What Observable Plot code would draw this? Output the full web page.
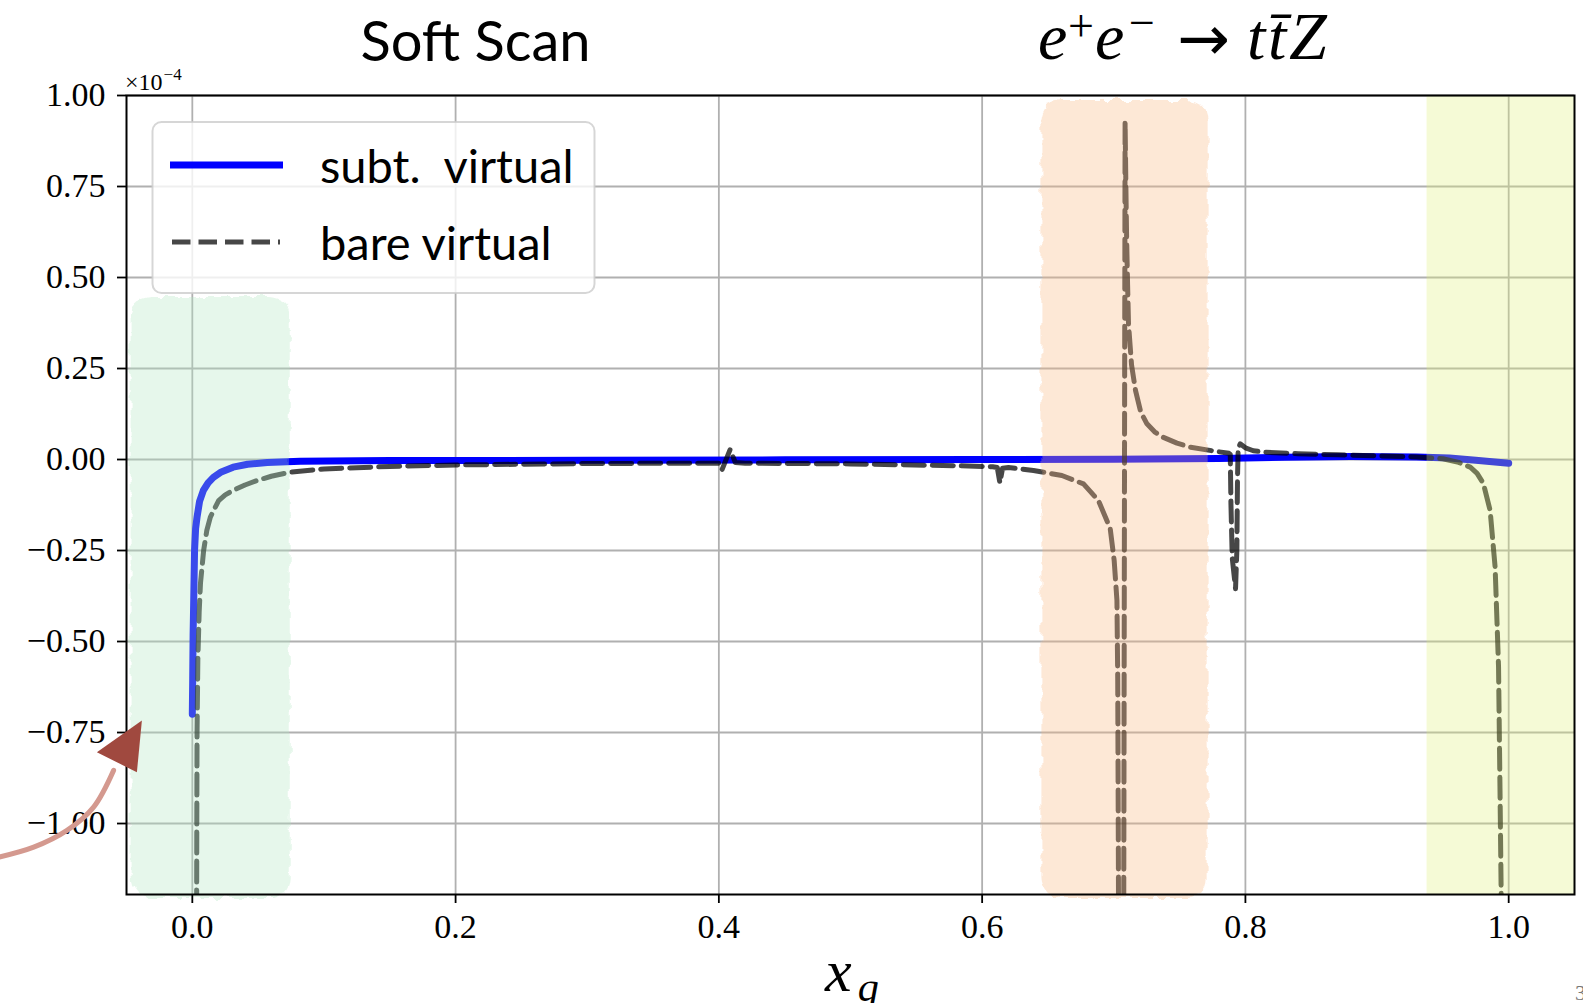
<!DOCTYPE html>
<html><head><meta charset="utf-8">
<script src="https://cdn.jsdelivr.net/npm/d3@7"></script>
<script src="https://cdn.jsdelivr.net/npm/@observablehq/plot@0.6"></script>
<style>
html,body{margin:0;padding:0;background:#fff;}
#chart{width:1583px;height:1003px;overflow:hidden;position:relative;}
</style></head><body><div id="chart"></div>
<script>
// ---------- data ----------
const xTicks = [0.0, 0.2, 0.4, 0.6, 0.8, 1.0];
const yTicks = [-1.0, -0.75, -0.5, -0.25, 0.0, 0.25, 0.5, 0.75, 1.0];

const titleLeft = "Soft Scan";
const seriesNames = ["subt.  virtual", "bare virtual"];

// subt. virtual (units of 1e-4)
const subtX = [0.0000, 0.0003, 0.0006, 0.0010, 0.0017, 0.0025, 0.0036, 0.0055, 0.0084, 0.0120, 0.0160, 0.0220, 0.0310, 0.0420, 0.0570, 0.0820, 0.1500, 0.3000, 0.4500, 0.6000, 0.7000, 0.7800, 0.8300, 0.8800, 0.9300, 0.9550, 0.9750, 1.0000];
const subtY = [-0.700, -0.600, -0.480, -0.400, -0.250, -0.190, -0.158, -0.115, -0.085, -0.064, -0.049, -0.034, -0.021, -0.013, -0.008, -0.005, -0.003, -0.002, -0.001, 0.000, 0.001, 0.003, 0.006, 0.008, 0.007, 0.004, -0.002, -0.010];

// bare virtual (units of 1e-4)
const bareX = [0.0032, 0.0034, 0.0036, 0.0042, 0.0052, 0.0062, 0.0086, 0.0110, 0.0137, 0.0200, 0.0250, 0.0310, 0.0400, 0.0490, 0.0600, 0.0740, 0.1000, 0.1500, 0.2000, 0.3000,
  0.4010, 0.4025, 0.4085, 0.4125, 0.4200, 0.5000, 0.5800, 0.6080, 0.6115, 0.6135, 0.6155, 0.6200, 0.6390, 0.6606, 0.6770, 0.6884, 0.6973, 0.7003, 0.7024, 0.7030, 0.7034, 0.7045, 0.7058,
  0.7086, 0.7092, 0.7098, 0.7105, 0.7112, 0.7135, 0.7165, 0.7205, 0.7252, 0.7310, 0.7376, 0.7480, 0.7580, 0.7783, 0.7875,
  0.7885, 0.7890, 0.7900, 0.7925, 0.7935, 0.7940, 0.7945, 0.7960, 0.8000, 0.8060, 0.8150, 0.8400, 0.8700, 0.9000, 0.9300, 0.9500, 0.9620, 0.9708, 0.9760, 0.9808, 0.9859, 0.9897, 0.9923, 0.9935, 0.9943, 0.9950];
const bareY = [-1.400, -1.000, -0.750, -0.550, -0.420, -0.340, -0.250, -0.195, -0.158, -0.113, -0.097, -0.085, -0.070, -0.058, -0.046, -0.035, -0.026, -0.019, -0.015, -0.011,
  -0.010, -0.027, 0.027, -0.008, -0.010, -0.012, -0.017, -0.020, -0.022, -0.064, -0.024, -0.022, -0.030, -0.044, -0.067, -0.113, -0.190, -0.277, -0.387, -0.600, -1.000, -2.200, -5.000,
  0.927, 0.750, 0.600, 0.480, 0.373, 0.260, 0.190, 0.130, 0.098, 0.076, 0.061, 0.045, 0.034, 0.022, 0.017,
  0.014, -0.120, -0.270, -0.355, -0.250, -0.050, 0.030, 0.043, 0.032, 0.024, 0.020, 0.016, 0.013, 0.010, 0.007, 0.002, -0.008, -0.021, -0.038, -0.066, -0.140, -0.296, -0.570, -0.937, -1.195, -1.500];

// highlighted regions
const regionNames = ["soft region", "threshold region", "endpoint region"];
const regionX1 = [-0.0465, 0.6454, 0.938];
const regionX2 = [0.0744, 0.7717, 1.05];
const regionY1 = [-1.206, -1.206, -1.195];
const regionY2 = [0.445, 0.986, 1.0];
const regionColors = ["#b2e7c1", "#f8b984", "#deee76"];

// annotation arrow (data coordinates)
const arrowX = [-0.150, -0.1205, -0.0952, -0.0750, -0.0598];
const arrowY = [-1.095, -1.065, -1.019, -0.955, -0.854];
const arrowHeadX = [-0.0510];
const arrowHeadY = [-0.794];

// ---------- plot ----------
const serif = "'Liberation Serif', 'DejaVu Serif', serif";
const sans = "Lato, 'Open Sans', sans-serif";
const roughIdx = [0, 1];
const flatIdx = [2];

// elongated arrow-head symbol (centred on its centroid)
const headSymbol = {
  draw(context, size) {
    const k = Math.sqrt(size) / 31.9;
    context.moveTo(16.7 * k, -28 * k);
    context.lineTo(-28.3 * k, 3.7 * k);
    context.lineTo(11.7 * k, 23.7 * k);
    context.closePath();
  }
};

const svg = Plot.plot({
  width: 1583, height: 1003,
  marginLeft: 126, marginRight: 9, marginTop: 95, marginBottom: 109,
  style: {fontFamily: serif, fontSize: "34px", background: "white", color: "black", overflow: "visible"},
  x: {domain: [-0.05, 1.05]},
  y: {domain: [-1.195, 1.0]},
  color: {domain: regionNames, range: regionColors},
  marks: [
    Plot.gridX(xTicks, {stroke: "#b0b0b0", strokeOpacity: 1, strokeWidth: 1.8}),
    Plot.gridY(yTicks, {stroke: "#b0b0b0", strokeOpacity: 1, strokeWidth: 1.8}),
    Plot.line(d3.range(subtX.length), {x: subtX, y: subtY, stroke: "#0000ff", strokeWidth: 7, strokeLinejoin: "round", clip: true}),
    Plot.line(d3.range(bareX.length), {x: bareX, y: bareY, stroke: "black", strokeOpacity: 0.72, strokeWidth: 5, strokeDasharray: "21,8", strokeLinejoin: "round", clip: true}),
    Plot.rect(roughIdx, {x1: i => regionX1[i], x2: i => regionX2[i], y1: i => regionY1[i], y2: i => regionY2[i], fill: i => regionNames[i], fillOpacity: 0.32, rx: 20}),
    Plot.rect(flatIdx, {x1: i => regionX1[i], x2: i => regionX2[i], y1: i => regionY1[i], y2: i => regionY2[i], fill: i => regionNames[i], fillOpacity: 0.3}),
    Plot.frame({stroke: "black", strokeWidth: 2}),
    Plot.axisX(xTicks, {tickFormat: ".1f", tickSize: 9, tickPadding: 10, strokeWidth: 1.8, label: null, fontSize: 34, fontFamily: serif}),
    Plot.axisY(yTicks, {tickFormat: ".2f", tickSize: 9, tickPadding: 12, strokeWidth: 1.8, label: null, fontSize: 34, fontFamily: serif}),
    Plot.line(d3.range(arrowX.length), {x: arrowX, y: arrowY, curve: "catmull-rom", stroke: "#d4998f", strokeWidth: 5}),
    Plot.dot([0], {x: arrowHeadX, y: arrowHeadY, symbol: headSymbol, r: 18, fill: "#a0493f", stroke: "none"})
  ]
});

// rough brush-like edges for the two painted regions
const sel = d3.select(svg);
const defs = sel.insert("defs", ":first-child");
const f = defs.append("filter").attr("id", "rough").attr("x", "-10%").attr("y", "-10%").attr("width", "120%").attr("height", "120%");
f.append("feTurbulence").attr("type", "fractalNoise").attr("baseFrequency", "0.09").attr("numOctaves", 2).attr("seed", 4).attr("result", "n");
f.append("feDisplacementMap").attr("in", "SourceGraphic").attr("in2", "n").attr("scale", 9).attr("xChannelSelector", "R").attr("yChannelSelector", "G");
const rectGroups = svg.querySelectorAll('g[aria-label="rect"]');
if (rectGroups.length) rectGroups[0].setAttribute("filter", "url(#rough)");

// ---------- annotations ----------
const ann = sel.append("g").attr("class", "annotations").attr("text-anchor", "start");

ann.append("text").attr("x", 475.5).attr("y", 61).attr("text-anchor", "middle")
  .attr("font-family", sans).attr("font-size", 56).attr("fill", "black").text(titleLeft);

// process title: e+ e- -> t tbar Z
const t2 = ann.append("text").attr("font-family", serif).attr("font-size", 66).attr("fill", "black");
t2.append("tspan").attr("x", 1038).attr("y", 59).attr("font-style", "italic").text("e");
t2.append("tspan").attr("x", 1068).attr("y", 41).attr("font-size", 46).text("+");
t2.append("tspan").attr("x", 1095).attr("y", 59).attr("font-style", "italic").text("e");
t2.append("tspan").attr("x", 1129).attr("y", 38).attr("font-size", 46).text("\u2212");
t2.append("tspan").attr("x", 1177).attr("y", 60).attr("font-family", "'DejaVu Sans', sans-serif").attr("font-size", 63).text("\u2192");
t2.append("tspan").attr("x", 1247).attr("y", 59).attr("font-style", "italic").text("t");
t2.append("tspan").attr("x", 1268).attr("y", 59).attr("font-style", "italic").text("t\u0304");
t2.append("tspan").attr("x", 1289).attr("y", 59).attr("font-style", "italic").attr("font-size", 68).text("Z");

// exponent label
const ex = ann.append("text").attr("x", 125).attr("y", 90).attr("font-family", serif).attr("font-size", 24).attr("fill", "black");
ex.append("tspan").text("\u00d710");
ex.append("tspan").attr("font-size", 17).attr("dy", -10).attr("dx", 1).text("\u22124");

// x label
const xl = ann.append("text").attr("x", 825).attr("y", 991).attr("font-family", serif).attr("font-size", 60).attr("font-style", "italic").attr("fill", "black");
xl.append("tspan").text("x");
xl.append("tspan").attr("font-size", 42).attr("dy", 10).attr("dx", 6).text("q");

// page number (cut off at edge, as in the reference)
ann.append("text").attr("x", 1575).attr("y", 1000).attr("font-family", serif).attr("font-size", 22).attr("fill", "#777").text("3");

// legend
const lg = ann.append("g");
lg.append("rect").attr("x", 152.5).attr("y", 122).attr("width", 442).attr("height", 171).attr("rx", 9)
  .attr("fill", "white").attr("fill-opacity", 0.8).attr("stroke", "#cccccc").attr("stroke-opacity", 0.8).attr("stroke-width", 2);
lg.append("line").attr("x1", 170).attr("x2", 283).attr("y1", 165).attr("y2", 165).attr("stroke", "#0000ff").attr("stroke-width", 7);
lg.append("line").attr("x1", 172).attr("x2", 280).attr("y1", 242).attr("y2", 242).attr("stroke", "black").attr("stroke-opacity", 0.72).attr("stroke-width", 5).attr("stroke-dasharray", "18.5,8");
lg.append("text").attr("x", 320).attr("y", 183).attr("font-family", sans).attr("font-size", 47).attr("fill", "black").style("white-space", "pre").text(seriesNames[0]);
lg.append("text").attr("x", 320).attr("y", 260).attr("font-family", sans).attr("font-size", 47).attr("fill", "black").style("white-space", "pre").text(seriesNames[1]);

document.getElementById("chart").appendChild(svg);
</script></body></html>
